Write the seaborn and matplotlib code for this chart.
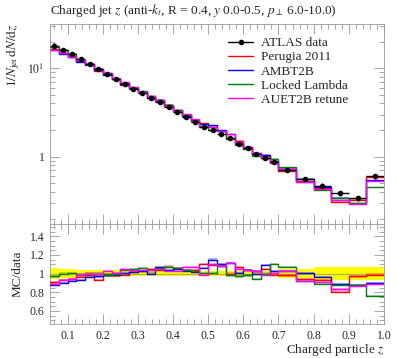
import numpy as np
import matplotlib
matplotlib.use("Agg")
import matplotlib.pyplot as plt
import seaborn as sns
from matplotlib.lines import Line2D
from matplotlib.ticker import FixedLocator, MultipleLocator, NullFormatter, LogLocator

# ----------------------- data -----------------------
EDGES = [0.05, 0.075, 0.1, 0.125, 0.15, 0.175, 0.2, 0.225, 0.25, 0.275, 0.3,
         0.325, 0.35, 0.375, 0.4, 0.425, 0.45, 0.475, 0.5, 0.525, 0.55, 0.575,
         0.6, 0.625, 0.65, 0.675, 0.7, 0.75, 0.8, 0.85, 0.9, 0.95, 1.0]

DATA = [18.1, 16.2, 14.4, 12.6, 11.3, 9.9, 8.6, 7.66, 6.6, 5.85, 5.2, 4.63,
        4.12, 3.62, 3.18, 2.84, 2.49, 2.19, 1.98, 1.80, 1.61, 1.41, 1.24, 1.07,
        0.966, 0.863, 0.708, 0.561, 0.469, 0.387, 0.337, 0.60]
DATA_RELERR = [0.06, 0.05, 0.045, 0.04, 0.04, 0.04, 0.035, 0.035, 0.03, 0.03,
               0.03, 0.03, 0.03, 0.03, 0.03, 0.03, 0.03, 0.03, 0.03, 0.03, 0.03,
               0.03, 0.03, 0.03, 0.03, 0.03, 0.045, 0.045, 0.07, 0.07, 0.07, 0.07]

# MC / data ratios
PERUGIA = [0.91, 0.93, 0.94, 0.965, 0.99, 0.935, 0.99, 0.98, 0.99, 1.02, 1.03,
           1.05, 1.04, 1.075, 1.06, 1.04, 1.04, 1.10, 1.09, 1.085, 1.00, 1.07,
           1.04, 1.03, 1.05, 0.99, 0.98, 0.945, 0.935, 0.80, 0.97, 0.99]
AMBT2B = [0.88, 0.90, 0.925, 0.935, 0.96, 0.97, 0.98, 0.99, 1.01, 1.02, 1.03,
          1.00, 1.07, 1.04, 1.05, 1.03, 1.02, 1.06, 1.15, 1.10, 1.11, 1.01,
          1.04, 1.00, 1.09, 1.03, 1.03, 1.01, 0.96, 0.89, 0.88, 0.90]
LOCKED = [0.97, 1.00, 1.01, 0.99, 1.00, 1.00, 0.99, 1.00, 1.04, 1.05, 1.06,
          1.04, 1.06, 1.07, 1.06, 1.04, 1.03, 1.01, 1.01, 1.085, 0.98, 0.97,
          0.98, 0.945, 1.00, 1.10, 1.07, 0.92, 0.885, 0.875, 0.88, 0.757]
AUET2B = [0.89, 0.93, 0.94, 0.99, 1.00, 1.00, 1.03, 1.01, 1.05, 1.04, 1.04,
          1.04, 1.05, 1.03, 1.03, 1.07, 1.07, 0.99, 1.10, 1.085, 1.11, 1.05,
          1.04, 1.03, 0.99, 1.01, 1.03, 0.92, 0.91, 0.83, 0.87, 0.89]
MC_RELERR = 0.012

MC_NAMES = ["Perugia 2011", "AMBT2B", "Locked Lambda", "AUET2B retune"]
MC_RATIOS = [PERUGIA, AMBT2B, LOCKED, AUET2B]
MC_COLORS = ["#ff0000", "#0000ff", "#008000", "#ff00ff"]
# -------------------------------------------------------------------------------

sns.set_theme(style="ticks")
plt.rcParams["font.family"] = ["Liberation Serif", "DejaVu Serif"]
plt.rcParams["mathtext.fontset"] = "stix"
plt.rcParams["axes.linewidth"] = 0.6
plt.rcParams["axes.edgecolor"] = "#999999"


def style_axis(ax):
    ax.tick_params(which="both", direction="in", top=True, right=True,
                   color="#999999", labelsize=8.5, width=0.6, pad=4)
    ax.tick_params(which="major", length=7)
    ax.tick_params(which="minor", length=3.5)


def step_y(vals):
    return list(vals) + [vals[-1]]


def main():
    edges = np.array(EDGES)
    centres = 0.5 * (edges[:-1] + edges[1:])
    halfw = 0.5 * np.diff(edges)
    data = np.array(DATA)
    derr = data * np.array(DATA_RELERR)

    fig = plt.figure(figsize=(3.97, 3.58), dpi=100)
    ax = fig.add_axes([0.126, 0.374, 0.841, 0.559])
    rax = fig.add_axes([0.126, 0.095, 0.841, 0.279], sharex=ax)

    # main panel: MC histograms
    for name, ratio, col in zip(MC_NAMES, MC_RATIOS, MC_COLORS):
        mc = data * np.array(ratio)
        ax.fill_between(edges, step_y(mc * (1 - MC_RELERR)), step_y(mc * (1 + MC_RELERR)),
                        step="post", color=col, alpha=0.35, lw=0)
        sns.lineplot(x=edges, y=step_y(mc), drawstyle="steps-post", color=col,
                     lw=1.0, ax=ax, estimator=None, sort=False)

    ax.errorbar(centres, data, xerr=halfw, yerr=derr, fmt="o", color="black",
                ms=3, lw=1.0, capsize=0, zorder=5)

    ax.set_yscale("log")
    ax.set_xlim(0.05, 1.0)
    ax.set_ylim(0.173, 31.7)
    ax.yaxis.set_major_locator(FixedLocator([1, 10]))
    ax.set_yticklabels(["1", r"$10^1$"])
    ax.yaxis.set_minor_locator(LogLocator(base=10, subs=np.arange(2, 10)))
    ax.yaxis.set_minor_formatter(NullFormatter())
    ax.xaxis.set_major_locator(MultipleLocator(0.1))
    ax.xaxis.set_minor_locator(MultipleLocator(0.02))
    plt.setp(ax.get_xticklabels(), visible=False)
    style_axis(ax)
    ax.set_xlabel("")
    ax.set_ylabel(r"$1/N_\mathrm{jet}\,\mathrm{d}N/\mathrm{d}z$", fontsize=9.5,
                  loc="top")
    ax.set_title(r"Charged jet $z$ (anti-$k_t$, R = 0.4, $y$ 0.0-0.5, $p_\perp$ 6.0-10.0)",
                 loc="left", fontsize=9.5, pad=7)

    handles = [Line2D([], [], color="black", marker="o", ms=3, lw=1.0)]
    handles += [Line2D([], [], color=c, lw=1.0) for c in MC_COLORS]
    ax.legend(handles, ["ATLAS data"] + MC_NAMES,
              loc="upper left", bbox_to_anchor=(0.533, 0.935), frameon=False,
              fontsize=9.5, handlelength=1.9, handletextpad=0.6,
              labelspacing=0.15, borderaxespad=0, borderpad=0)

    # ratio panel
    rel = np.array(DATA_RELERR)
    rax.fill_between(edges, step_y(1 - rel), step_y(1 + rel), step="post",
                     color="#ffff00", lw=0, zorder=1)
    rax.axhline(1.0, color="#b5b04a", lw=0.9, zorder=2)
    for ratio, col in zip(MC_RATIOS, MC_COLORS):
        r = np.array(ratio)
        rax.fill_between(edges, step_y(r - MC_RELERR), step_y(r + MC_RELERR),
                         step="post", color=col, alpha=0.3, lw=0, zorder=3)
        sns.lineplot(x=edges, y=step_y(r), drawstyle="steps-post", color=col,
                     lw=1.0, ax=rax, estimator=None, sort=False, zorder=4)

    rax.set_ylim(0.46, 1.53)
    rax.yaxis.set_major_locator(FixedLocator([0.6, 0.8, 1.0, 1.2, 1.4]))
    rax.set_yticklabels(["0.6", "0.8", "1", "1.2", "1.4"])
    rax.yaxis.set_minor_locator(MultipleLocator(0.05))
    rax.set_xticks([0.1, 0.2, 0.3, 0.4, 0.5, 0.6, 0.7, 0.8, 0.9, 1.0])
    rax.set_xticklabels(["0.1", "0.2", "0.3", "0.4", "0.5", "0.6", "0.7",
                         "0.8", "0.9", "1.0"])
    rax.xaxis.set_minor_locator(MultipleLocator(0.02))
    rax.set_xlim(0.05, 1.0)
    style_axis(rax)
    rax.set_ylabel("MC/data", fontsize=9.5)
    rax.set_xlabel("Charged particle $z$", fontsize=9.5, loc="right", labelpad=0)

    fig.savefig("out.png", dpi=100)


if __name__ == "__main__":
    main()
